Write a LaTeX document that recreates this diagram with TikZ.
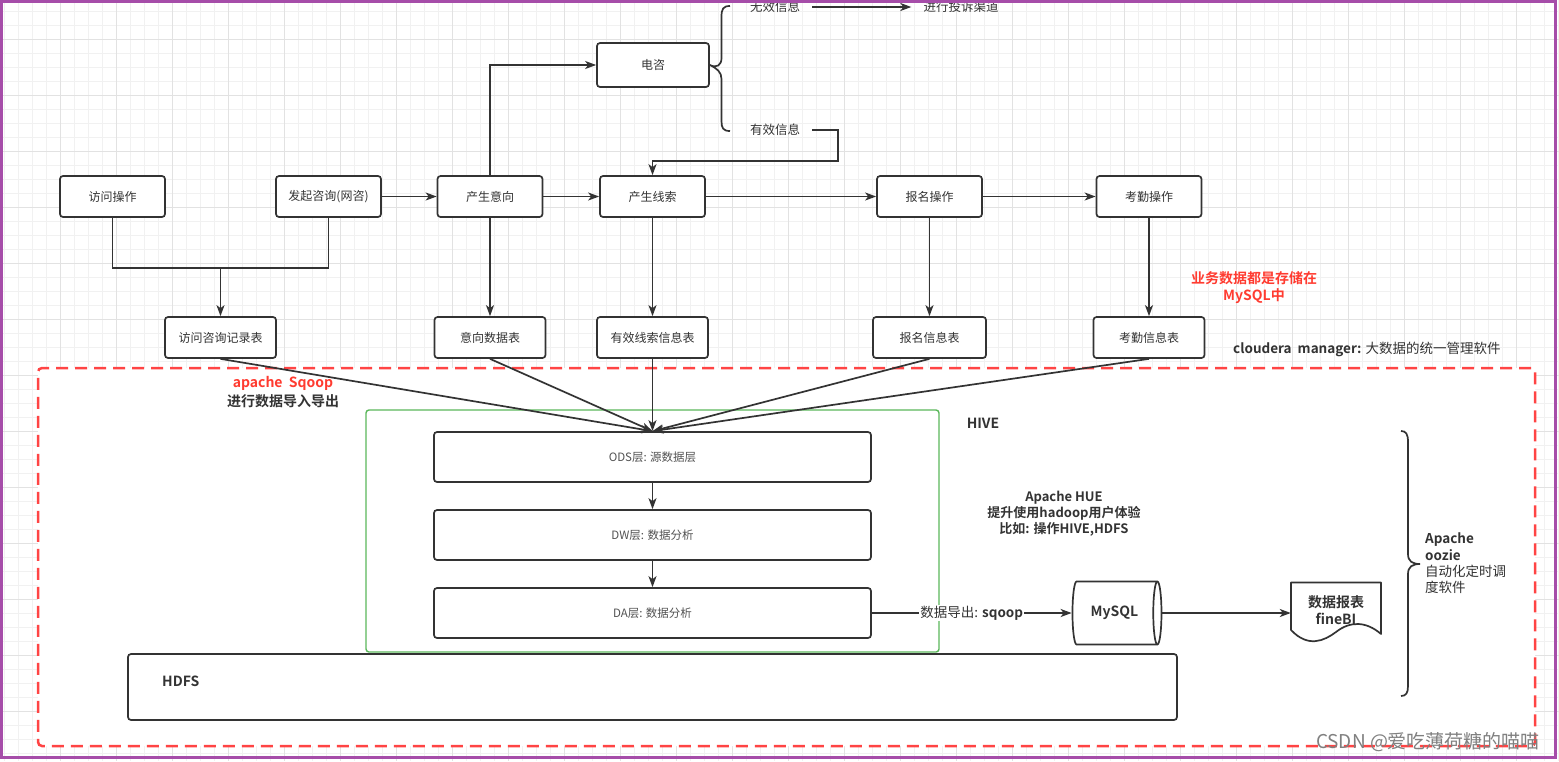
\documentclass[tikz,border=0pt]{standalone}
\usepackage{fontspec}
\setmainfont{Noto Sans CJK SC}[BoldFont={Noto Sans CJK SC Bold}]
\usetikzlibrary{positioning,arrows.meta,shapes.geometric}

\definecolor{ink}{HTML}{333333}
\definecolor{gridmin}{HTML}{F1F1F1}
\definecolor{gridmaj}{HTML}{E2E2E2}
\definecolor{framepurple}{HTML}{A64DA9}
\definecolor{cdhred}{HTML}{FF4444}
\definecolor{notered}{HTML}{FF3B30}
\definecolor{hivegreen}{HTML}{5BB75B}

\begin{document}
\begin{tikzpicture}[
  x=1pt, y=-1pt,
  box/.style={rectangle, draw=ink, line width=1.7pt, rounded corners=3pt, fill=white,
              minimum width=105, minimum height=41, inner sep=0pt, align=center,
              text=ink, font=\fontsize{12}{14}\selectfont},
  tbl/.style={box, minimum width=111},
  layer/.style={box, minimum width=437, minimum height=50, text=ink!85,
                font=\fontsize{11.5}{14}\selectfont},
  txt/.style={inner xsep=12pt, inner ysep=0pt, text=ink, font=\fontsize{12.5}{14}\selectfont},
  note/.style={align=center, inner sep=0pt, text=ink, font=\bfseries\fontsize{13}{16}\selectfont},
  big/.style={font=\bfseries\fontsize{14}{17}\selectfont},
  arr/.style={-{Stealth[length=11pt,width=8pt,inset=3pt]}, draw=ink, line width=1.7pt},
  link/.style={draw=ink, line width=1.7pt},
  gridminor/.style={draw=gridmin, line width=1pt},
  gridmajor/.style={draw=gridmaj, line width=1pt},
]
  \useasboundingbox (0,0) rectangle (1559,761);

  % background grid
  \foreach \gx in {4,18,...,1558} \draw[gridminor] (\gx,0) -- (\gx,761);
  \foreach \gy in {11,25,...,760} \draw[gridminor] (0,\gy) -- (1559,\gy);
  \foreach \gx in {60,116,...,1558} \draw[gridmajor] (\gx,0) -- (\gx,761);
  \foreach \gy in {39,95,...,760} \draw[gridmajor] (0,\gy) -- (1559,\gy);

  % Containers
  \node[draw=cdhred, fill=white, line width=2.5pt, dash pattern=on 12pt off 7pt, rounded corners=4pt,
        minimum width=1497, minimum height=378] (cdh) at (786.5,557) {};
  \node[draw=hivegreen, line width=1.4pt, rounded corners=3pt,
        minimum width=573, minimum height=242] (hive) at (652.5,531) {};
  \node[box, minimum width=1049, minimum height=66] (hdfs) at (652.5,687) {};

  % Row 1: business steps
  \node[box] (visit) at (112.5,196.5) {访问操作};
  \node[box] (ask) at (328.5,196.5) {发起咨询(网咨)};
  \node[box] (intent) at (490,196.5) {产生意向};
  \node[box] (lead) at (652.5,196.5) {产生线索};
  \node[box] (signup) at (929.5,196.5) {报名操作};
  \node[box] (attend) at (1149,196.5) {考勤操作};

  % Phone consult branch
  \node[box, minimum width=112, minimum height=44] (phone) at (653,65) {电咨};
  \node[txt] (invalid) at (775,7) {无效信息};
  \node[txt] (complain) at (961,7) {进行投诉渠道};
  \node[txt] (valid) at (775,130) {有效信息};
  \draw[link] (730,6) .. controls (723,6) and (721.5,9) .. (721.5,17) -- (721.5,58)
     .. controls (721.5,65) and (717,68.5) .. (phone.east)
     .. controls (717,68.5) and (721.5,72) .. (721.5,79) -- (721.5,121)
     .. controls (721.5,128) and (723,131) .. (730,131);

  % Row 2: tables
  \node[tbl] (visittbl) at (220.5,337.5) {访问咨询记录表};
  \node[tbl] (intenttbl) at (490,337.5) {意向数据表};
  \node[tbl] (leadtbl) at (652.5,337.5) {有效线索信息表};
  \node[tbl, minimum width=113] (signtbl) at (929.5,337.5) {报名信息表};
  \node[tbl] (attendtbl) at (1149,337.5) {考勤信息表};

  % Hive layers
  \node[layer] (ods) at (652.5,457) {ODS层: 源数据层};
  \node[layer, below=26.3pt of ods] (dw) {DW层: 数据分析};
  \node[layer, below=26.3pt of dw] (da) {DA层: 数据分析};

  % Export targets
  \node[cylinder, draw=ink, line width=1.7pt, fill=white, aspect=0.6,
        minimum width=63, minimum height=89, inner sep=0pt,
        big, text=ink] (mysql) at (1114.5,613) {MySQL};
  \node[big, text=ink, align=center, minimum width=90, minimum height=56, inner sep=0pt] (report) at (1336,610.5) {数据报表\\fineBI};
  \draw[link, line join=round] (1291,582.5) -- (1381,582.5) -- (1381,634)
     .. controls (1366,621) and (1350,621) .. (1336,632)
     .. controls (1324,641) and (1308,648) .. (1291,630) -- cycle;

  % Labels
  \node[note, big, text=notered] (storenote) at (1254,287.5) {业务数据都是存储在\\MySQL中};
  \node[anchor=west, inner sep=0pt, text=ink, font=\fontsize{13.5}{16}\selectfont] (cdhlbl) at (1233,349)
       {\textbf{cloudera\ \ manager:} 大数据的统一管理软件};
  \node[note, big, execute at begin node=\setlength{\baselineskip}{18.5pt}] (sqooplbl) at (283,392)
       {\textcolor{notered}{apache\ \ Sqoop}\\进行数据导入导出};
  \node[note, big] (hivelbl) at (983,423) {HIVE};
  \node[note] (hue) at (1064,514) {Apache HUE\\提升使用hadoop用户体验\\比如: 操作HIVE,HDFS};
  \node[note, big, anchor=west] (hdfslbl) at (162,681) {HDFS};
  \node[note, align=left, anchor=west, font=\bfseries\fontsize{13.5}{16.3}\selectfont] (oozie) at (1425,563.5)
       {Apache\\oozie\\{\mdseries 自动化定时调}\\{\mdseries 度软件}};
  \draw[link] (1401,431) .. controls (1406,431) and (1408,434) .. (1408,442) -- (1408,554)
     .. controls (1408,561) and (1412,564) .. (1420,564)
     .. controls (1412,564) and (1408,567) .. (1408,574) -- (1408,686)
     .. controls (1408,693) and (1406,696) .. (1401,696);

  % Arrows
  \draw[link] (visit.south) |- (visittbl.north |- 0,268) -| (ask.south);
  \draw[arr] (visittbl.north |- 0,268) -- (visittbl.north);
  \draw[arr] (ask) -- (intent);
  \draw[arr] (intent) -- (lead);
  \draw[arr] (lead) -- (signup);
  \draw[arr] (signup) -- (attend);
  \draw[arr] (intent.north) |- (phone.west);
  \draw[arr] (invalid) -- (complain);
  \draw[arr] (valid.east) -| (838,161) -| (lead.north);
  \draw[arr] (intent) -- (intenttbl);
  \draw[arr] (lead) -- (leadtbl);
  \draw[arr] (signup) -- (signtbl);
  \draw[arr] (attend) -- (attendtbl);
  \foreach \t in {visittbl,intenttbl,leadtbl,signtbl,attendtbl}
    \draw[arr] (\t.south) -- (ods.north);
  \draw[arr] (ods) -- (dw);
  \draw[arr] (dw) -- (da);
  \draw[arr] (da.east) -- node[fill=white, inner sep=1pt, text=ink, font=\fontsize{13.5}{16}\selectfont]
       {数据导出: \textbf{sqoop}} (da.east -| mysql.west);
  \draw[arr] (mysql.east) -- (mysql.east -| report.west);

  % frame and watermark
  \draw[draw=framepurple, line width=2.7pt] (1.35,1.35) rectangle (1555.6,757.6);
  \node[text=black!50, font=\fontsize{19}{22}\selectfont, inner sep=0pt] (mark) at (1428,742) {CSDN @爱吃薄荷糖的喵喵};
\end{tikzpicture}
\end{document}
